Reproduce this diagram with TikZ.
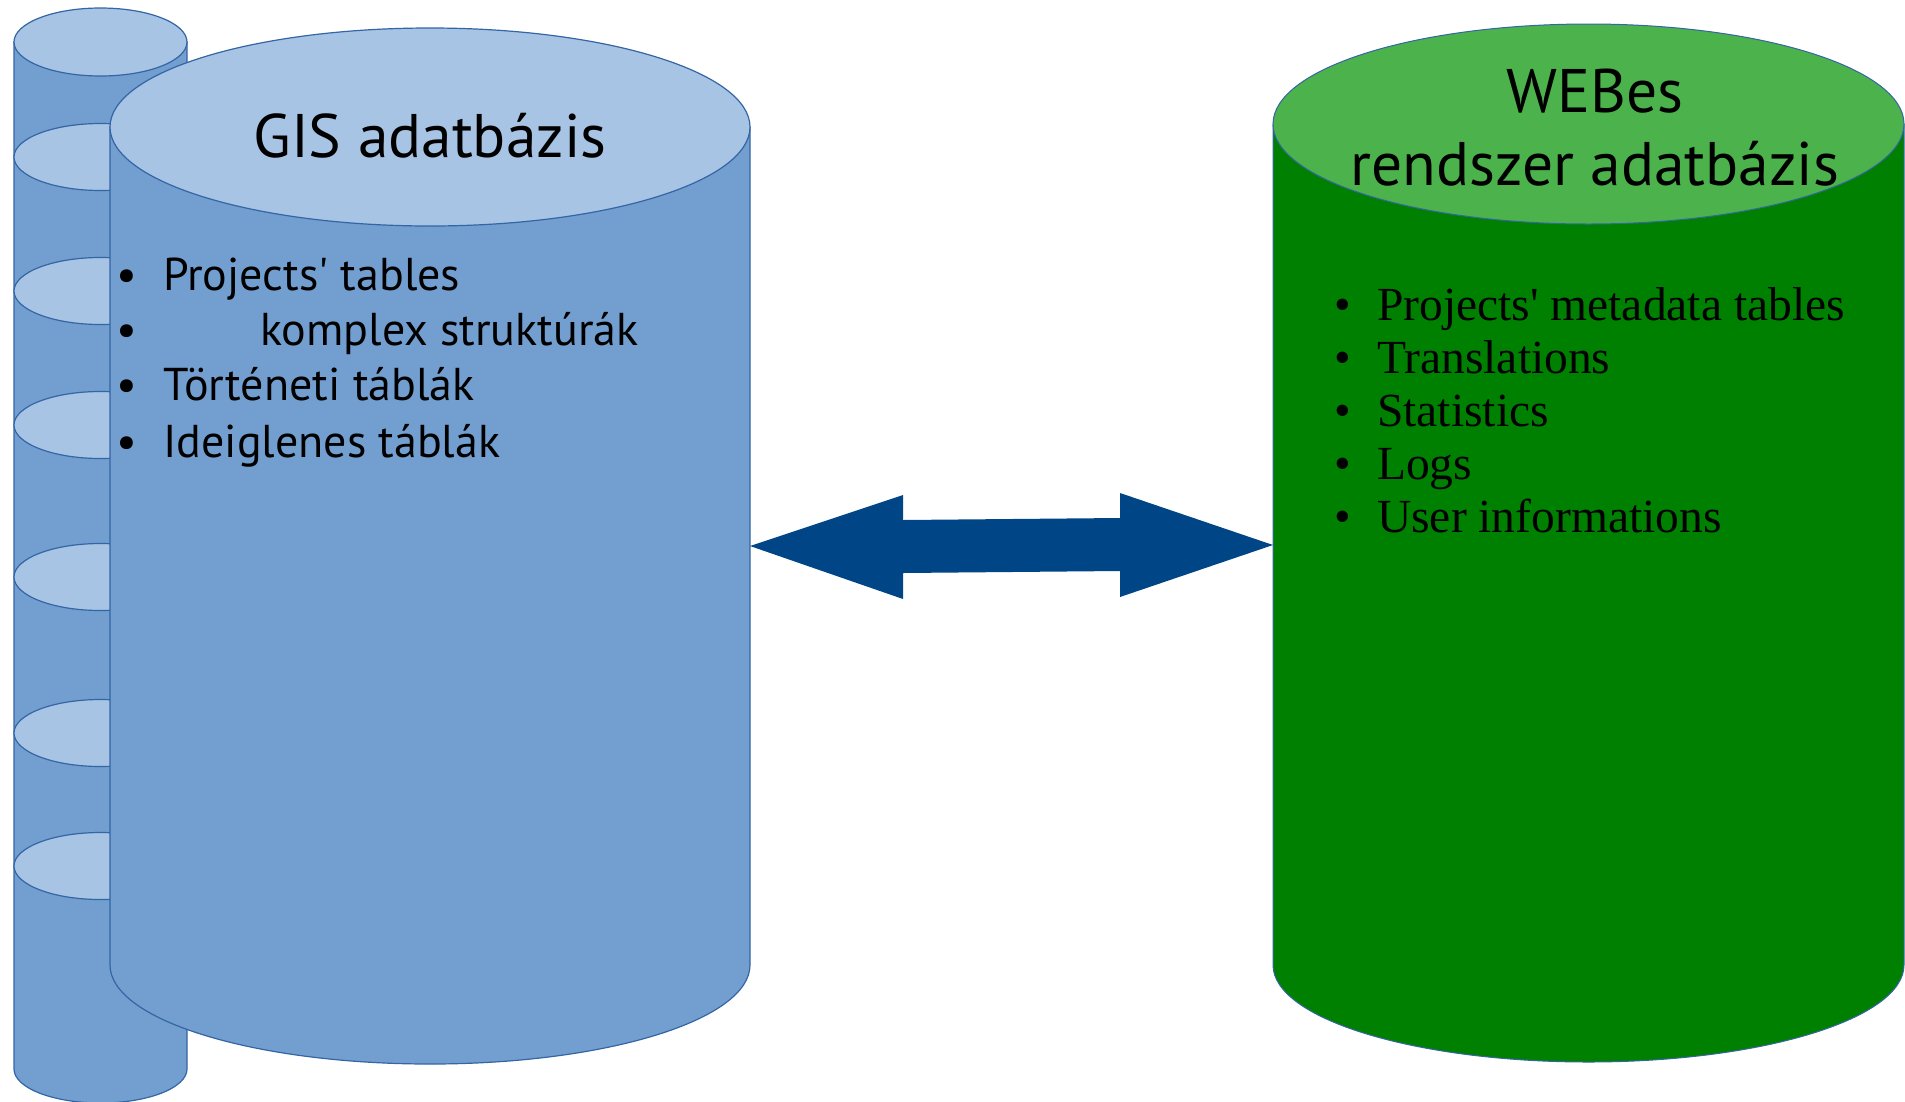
\documentclass[tikz,border=0pt]{standalone}
\usepackage{fontspec}
\setmainfont{Liberation Serif}
\newfontfamily\titlefont{PT Sans}
\usetikzlibrary{calc}
\newcommand\sqt{\XeTeXglyph\XeTeXcharglyph"27\relax}
\definecolor{bodyblue}{RGB}{114,159,207}
\definecolor{topblue}{RGB}{167,196,228}
\definecolor{edgeblue}{RGB}{52,101,164}
\definecolor{bodygreen}{RGB}{0,128,0}
\definecolor{topgreen}{RGB}{76,178,76}
\definecolor{arrowblue}{RGB}{0,69,134}
\tikzset{
  bluebody/.style={fill=bodyblue,draw=edgeblue,line width=1.2pt},
  bluetop/.style={fill=topblue,draw=edgeblue,line width=1.2pt},
  greenbody/.style={fill=bodygreen,draw=edgeblue,line width=1pt},
  greentop/.style={fill=topgreen,draw=edgeblue,line width=1pt},
  titletext/.style={inner sep=0pt,anchor=base,font=\titlefont\fontsize{61.5}{64}\selectfont},
  gisitem/.style={inner sep=0pt,anchor=base west,font=\titlefont\fontsize{46}{48}\selectfont},
  webitem/.style={inner sep=0pt,anchor=base west,font=\fontsize{47.5}{50}\selectfont},
}
\begin{document}
\begin{tikzpicture}[x=1pt,y=-1pt]
\useasboundingbox (0,0) rectangle (1905,1101);
% small stacked cylinder
\path[bluebody] (14,42) -- (14,1069) arc[start angle=180,end angle=360,x radius=86.5pt,y radius=34pt] -- (187,42) -- cycle;
\path[bluetop] (100.5,42) ellipse[x radius=86.5pt,y radius=34pt];
\foreach \yy in {157,291,425,577,733,866}{
  \path[bluetop] (100.5,\yy) ellipse[x radius=86.5pt,y radius=33.5pt];
}
% main GIS cylinder
\path[bluebody] (110,127) -- (110,965) arc[start angle=180,end angle=360,x radius=320pt,y radius=99pt] -- (750,127) -- cycle;
\path[bluetop] (430,127) ellipse[x radius=320pt,y radius=99pt];
\node[titletext] (gistitle) at (430,157) {GIS adatbázis};
\foreach \yy/\xx/\txt [count=\i] in {290/163/{Projects\sqt{} tables},345/260/{komplex struktúrák},400/163/{Történeti táblák},457/163/{Ideiglenes táblák}}{
  \node[gisitem] (gisb\i) at (116,\yy) {•};
  \node[gisitem] (gisi\i) at (\xx,\yy) {\txt};
}
% WEB cylinder
\path[greenbody] (1273,124) -- (1273,965) arc[start angle=180,end angle=360,x radius=315.5pt,y radius=97pt] -- (1904,124) -- cycle;
\path[greentop] (1588.5,124) ellipse[x radius=315.5pt,y radius=100pt];
\node[titletext] (webt1) at (1595,112) {WEBes};
\node[titletext] (webt2) at (1595,185) {rendszer adatbázis};
\foreach \yy/\txt [count=\i] in {320/{Projects\sqt{} metadata tables},373/{Translations},426/{Statistics},479/{Logs},532/{User informations}}{
  \node[webitem] (webb\i) at (1334,\yy) {•};
  \node[webitem] (webi\i) at (1377,\yy) {\txt};
}
% double arrow
\coordinate (gisR) at (750,546);
\coordinate (webL) at (1273,545);
\fill[arrowblue] (gisR) -- ++(153,-51) -- ++(0,25) -- ($(webL)+(-153,-27)$) -- ++(0,-25) -- (webL) -- ++(-153,52) -- ++(0,-26) -- ($(gisR)+(153,27)$) -- ++(0,26) -- cycle;
\end{tikzpicture}
\end{document}
